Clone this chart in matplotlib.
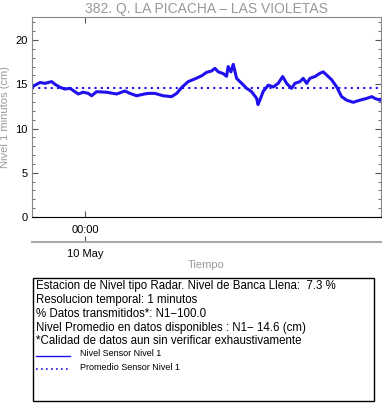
import datetime as dt

import matplotlib
matplotlib.use("Agg")
import matplotlib.pyplot as plt
import matplotlib.dates as mdates
from matplotlib.patches import Rectangle
from matplotlib.ticker import MultipleLocator

plt.rcParams['font.family'] = ['Liberation Sans', 'DejaVu Sans']

# lectura del nivel (horas respecto a 10 May 00:00, nivel en cm)
horas = [-3.64, -3.09, -2.75, -2.29, -2.06, -1.72, -1.38, -1.03, -0.69, -0.46,
         -0.12, 0.23, 0.46, 0.80, 1.49, 2.18, 2.75, 3.09, 3.56, 4.01,
         4.35, 4.81, 5.38, 5.96, 6.31, 6.65, 7.10, 7.56, 8.03, 8.37,
         8.71, 8.94, 9.17, 9.51, 9.74, 9.85, 10.04, 10.20, 10.43, 10.78,
         11.12, 11.46, 11.81, 11.90, 12.03, 12.26, 12.61, 12.95, 13.29, 13.60,
         13.87, 14.21, 14.44, 14.79, 15.01, 15.25, 15.47, 15.82, 16.16, 16.39,
         16.62, 16.97, 17.31, 17.65, 18.00, 18.45, 18.91, 19.37, 19.72, 19.94,
         20.29, 20.36]
nivel = [14.7, 15.2, 15.1, 15.3, 15.0, 14.66, 14.46, 14.54, 14.16, 13.9,
         14.1, 13.97, 13.7, 14.16, 14.1, 13.9, 14.24, 13.97, 13.7, 13.87,
         13.97, 13.97, 13.7, 13.6, 13.97, 14.63, 15.3, 15.6, 15.96, 16.35,
         16.5, 16.8, 16.4, 16.2, 15.9, 17.0, 16.4, 17.25, 15.67, 15.1,
         14.54, 14.16, 13.4, 12.7, 13.2, 14.2, 14.9, 14.7, 15.1, 15.87,
         15.1, 14.54, 15.1, 15.3, 15.67, 15.1, 15.67, 15.87, 16.24, 16.4,
         16.05, 15.5, 14.7, 13.6, 13.2, 12.96, 13.2, 13.4, 13.6, 13.4,
         13.2, 13.3]
promedio = 14.6
inicio_h, fin_h = -3.64, 20.36

textos = [
    "Estacion de Nivel tipo Radar. Nivel de Banca Llena:  7.3 %",
    "Resolucion temporal: 1 minutos",
    "% Datos transmitidos*: N1\u2212100.0",
    "Nivel Promedio en datos disponibles : N1\u2212 14.6 (cm)",
    "*Calidad de datos aun sin verificar exhaustivamente",
]
leyenda = ["Nivel Sensor Nivel 1", "Promedio Sensor Nivel 1"]

base = dt.datetime(2023, 5, 10, 0, 0)
t = [base + dt.timedelta(hours=h) for h in horas]
t0 = base + dt.timedelta(hours=inicio_h)
t1 = base + dt.timedelta(hours=fin_h)

azul = "#2010f0"
gris = "#999999"

W, H = 382, 404
fig = plt.figure(figsize=(W / 100, H / 100), dpi=100)

ax = fig.add_axes([32 / W, 1 - 217 / H, 349 / W, 200 / H])
ax.plot(t, nivel, color=azul, lw=2.2)
ax.plot([t0, t1], [promedio, promedio], color=azul, lw=1.5, linestyle=(0, (1, 2)))
ax.set_xlim(t0, t1)
ax.set_ylim(0, 22.6)
ax.yaxis.set_major_locator(MultipleLocator(5))
ax.yaxis.set_minor_locator(MultipleLocator(1))
ax.xaxis.set_major_locator(mdates.DayLocator())
ax.xaxis.set_major_formatter(mdates.DateFormatter("%H:%M"))
ax.tick_params(axis='both', which='both', direction='in', top=True, right=True,
               labelsize=8, color='#555555')
ax.tick_params(axis='y', which='major', length=4, pad=3)
ax.tick_params(axis='y', which='minor', length=2)
ax.tick_params(axis='x', which='major', length=4, pad=6)
for s in ['left', 'right', 'top']:
    ax.spines[s].set_color('#888888')
ax.spines['bottom'].set_color('black')
ax.set_ylabel("Nivel 1 minutos (cm)", color=gris, fontsize=8, labelpad=4)
ax.set_title("382. Q. LA PICACHA \u2013 LAS VIOLETAS", color=gris, fontsize=10, pad=3)

# segundo eje con la fecha
ax2 = fig.add_axes([32 / W, 1 - 242 / H, 349 / W, 0.001])
ax2.set_xlim(t0, t1)
ax2.set_yticks([])
for s in ['left', 'right', 'top']:
    ax2.spines[s].set_visible(False)
ax2.spines['bottom'].set_color('#aaaaaa')
ax2.spines['bottom'].set_linewidth(1.5)
ax2.xaxis.set_major_locator(mdates.DayLocator())
ax2.xaxis.set_major_formatter(mdates.DateFormatter("%d %b"))
ax2.tick_params(axis='x', direction='in', length=4, pad=5, labelsize=8, color='#555555')
ax2.set_xlabel("Tiempo", color=gris, fontsize=8, labelpad=1)
ax2.patch.set_visible(False)

# cuadro de informacion
fig.patches.append(Rectangle((33 / W, 1 - 401 / H), 341 / W, 123 / H,
                             transform=fig.transFigure, fill=False,
                             edgecolor='black', lw=1))
ys = [285.5, 300.5, 314, 327.5, 340.5]
for y, txt in zip(ys, textos):
    fig.text(36 / W, 1 - y / H, txt, fontsize=8.3, va='center', ha='left')
ly = [354, 367]
estilos = ['-', (0, (1, 2))]
for y, lab, ls in zip(ly, leyenda, estilos):
    fig.add_artist(plt.Line2D([36 / W, 70 / W], [1 - (y + 2) / H] * 2,
                              color=azul, lw=1 if ls == '-' else 1.2, linestyle=ls))
    fig.text(80 / W, 1 - y / H, lab, fontsize=6.5, va='center', ha='left')

fig.savefig("out.png", dpi=100)
